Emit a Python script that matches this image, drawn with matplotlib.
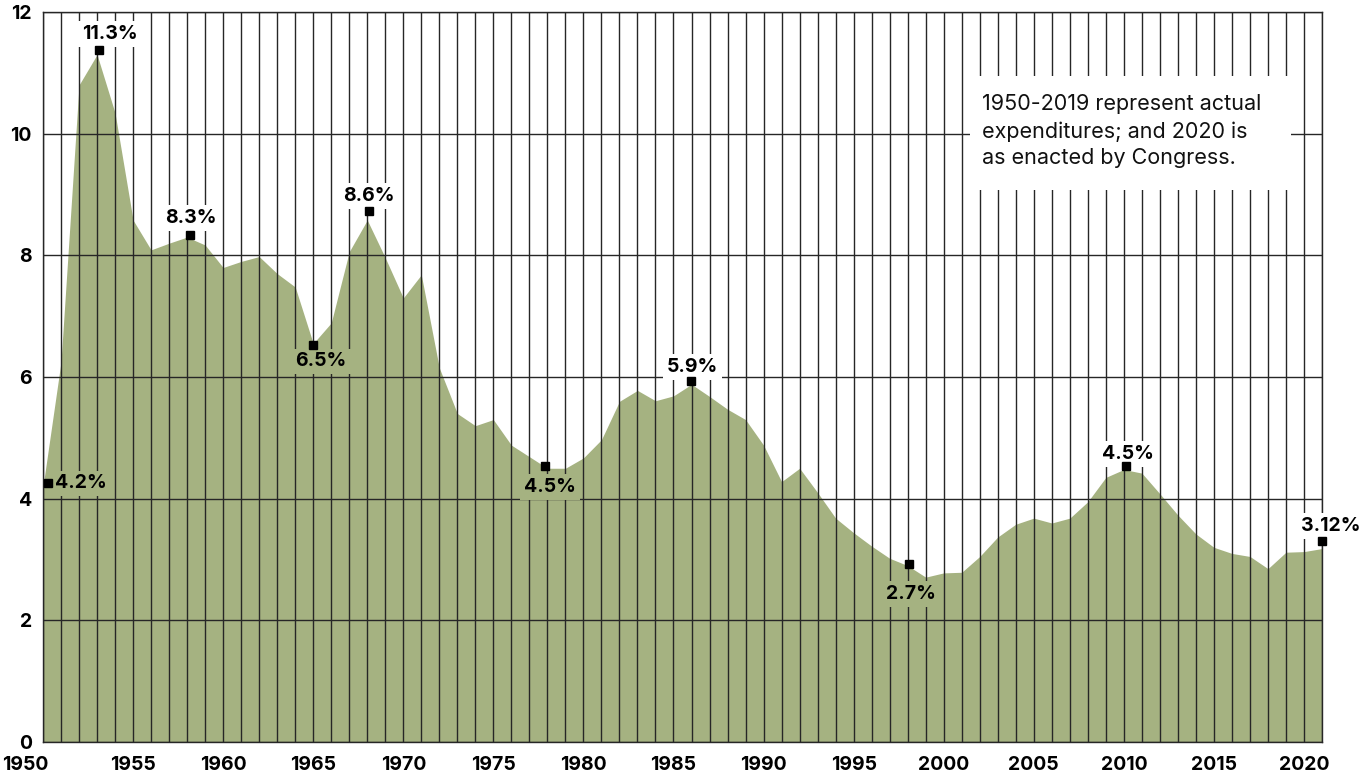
import matplotlib
matplotlib.use("Agg")
import matplotlib.pyplot as plt
from matplotlib.patches import Rectangle
from matplotlib.transforms import ScaledTranslation

# ---- data (% of GDP) ----
years = list(range(1950, 2022))
spending = [4.2, 6.25, 10.8, 11.3, 10.34, 8.58, 8.09, 8.2, 8.3, 8.17,
            7.8, 7.9, 7.98, 7.7, 7.48, 6.55, 6.89, 8.06, 8.58, 7.96,
            7.3, 7.68, 6.15, 5.4, 5.2, 5.3, 4.88, 4.69, 4.5, 4.5,
            4.67, 4.97, 5.6, 5.78, 5.61, 5.69, 5.88, 5.68, 5.47, 5.3,
            4.88, 4.28, 4.5, 4.1, 3.68, 3.44, 3.22, 3.02, 2.9, 2.71,
            2.78, 2.79, 3.05, 3.37, 3.58, 3.68, 3.6, 3.68, 3.95, 4.35,
            4.48, 4.42, 4.08, 3.73, 3.42, 3.2, 3.1, 3.05, 2.85, 3.12,
            3.13, 3.18]

# highlighted points (marker position + label)
mark_years = [1950.26, 1953.09, 1958.15, 1964.97, 1968.1, 1977.87, 1985.96, 1998.08, 2010.13, 2021.0]
mark_values = [4.25, 11.37, 8.33, 6.53, 8.73, 4.54, 5.94, 2.93, 4.54, 3.31]
mark_labels = ["4.2%", "11.3%", "8.3%", "6.5%", "8.6%", "4.5%", "5.9%", "2.7%", "4.5%", "3.12%"]

x_ticks = list(range(1950, 2021, 5))
y_ticks = [0, 2, 4, 6, 8, 10, 12]
note = "1950-2019 represent actual\nexpenditures; and 2020 is\nas enacted by Congress."

# ---- styling ----
GREEN = "#a5b281"
LINE = "#262626"
plt.rcParams["font.family"] = ["Inter", "DejaVu Sans"]

fig = plt.figure(figsize=(13.72, 7.73), dpi=100)
ax = fig.add_axes([43 / 1372, 1 - 742 / 773, 1279 / 1372, 730 / 773])

ax.fill_between(years, spending, 0, color=GREEN, linewidth=0, zorder=1)

ax.set_xlim(1950, 2021)
ax.set_ylim(0, 12)

# a gridline for every year plus the even percentages
ax.set_xticks(x_ticks)
ax.set_xticks(years, minor=True)
ax.set_yticks(y_ticks)
ax.grid(which="both", axis="x", color=LINE, linewidth=1.0, zorder=2)
ax.grid(which="major", axis="y", color=LINE, linewidth=1.0, zorder=2)
ax.set_axisbelow(False)
ax.tick_params(which="both", length=0)
ax.tick_params(axis="x", pad=10)
ax.tick_params(axis="y", pad=8)
for lab in ax.get_xticklabels() + ax.get_yticklabels():
    lab.set_fontweight("bold")
    lab.set_fontsize(14)
# first year label hangs left of the axis, like the original
first = ax.get_xticklabels()[0]
first.set_horizontalalignment("right")
first.set_transform(first.get_transform() + ScaledTranslation(4 / 72, 0, fig.dpi_scale_trans))
for s in ax.spines.values():
    s.set_color(LINE)
    s.set_linewidth(1.0)

# label offsets (points) and whether the label sits over the fill
offsets = [(5, 0), (8, 11.5), (1, 12.5), (6, -12), (0, 10.5), (3.5, -15),
           (1, 10), (1.2, -21.5), (1, 8.3), (6, 10.8)]
on_fill = [True, False, False, True, False, True, False, True, False, False]

ax.plot(mark_years, mark_values, "s", color="black", markersize=5.5,
        zorder=6, clip_on=False)
for i, lab in enumerate(mark_labels):
    dx, dy = offsets[i]
    ha = "left" if i == 0 else "center"
    ax.annotate(lab, (mark_years[i], mark_values[i]), xytext=(dx, dy),
                textcoords="offset points", ha=ha, va="center",
                fontsize=14, fontweight="bold", color="black", zorder=5,
                annotation_clip=False,
                bbox=dict(boxstyle="square,pad=0.2",
                          fc=GREEN if on_fill[i] else "white", ec="none"))

# note box
ax.add_patch(Rectangle((2001.45, 9.08), 17.85, 1.86, facecolor="white",
                       edgecolor="none", zorder=4))
ax.text(2002.1, 10.04, note, fontsize=15.5, va="center", ha="left",
        linespacing=1.4, color="#111111", zorder=5)

fig.savefig("out.png", dpi=100)
